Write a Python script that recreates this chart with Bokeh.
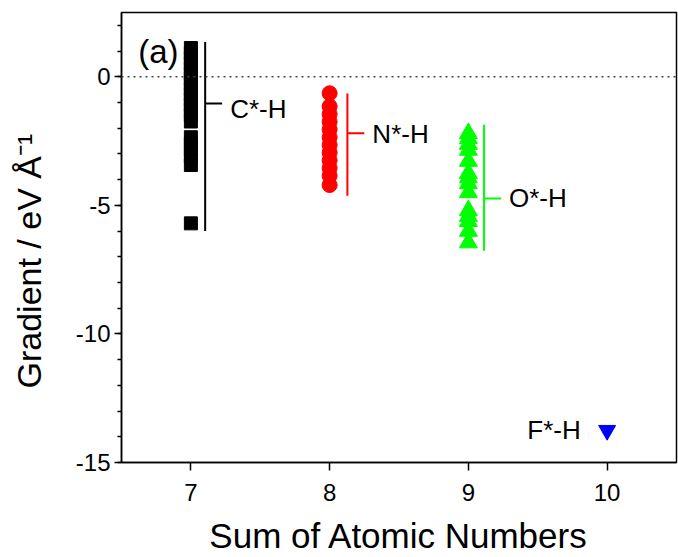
from bokeh.plotting import figure
from bokeh.models import Range1d, FixedTicker, Span, Label
from bokeh.embed import file_html
from bokeh.resources import INLINE

FONT = "Liberation Sans"

# ---- data ----
c_x = 7
c_values = [1.12, 0.92, 0.72, 0.52, 0.32, 0.12, -0.08, -0.28, -0.48, -0.68,
            -0.88, -1.08, -1.28, -1.48, -1.74, -2.35, -2.6, -2.85, -3.1, -3.43, -5.7]
n_x = 8
n_values = [-0.64, -1.15, -1.45, -1.75, -2.05, -2.35, -2.65, -2.95, -3.25,
            -3.55, -3.85, -4.21]
o_x = 9
o_values = [-2.2, -2.4, -2.62, -2.85, -3.28, -3.75, -3.92, -4.15, -4.5,
            -5.2, -5.42, -5.62, -6.0, -6.45]
f_x = 10
f_values = [-13.75]

group_names = ["C*-H", "N*-H", "O*-H"]
group_colors = ["#000000", "#ff0000", "#00ff00"]
bracket_x = [7.103, 8.128, 9.113]
bracket_top = [1.35, -0.65, -1.87]
bracket_bottom = [-6.0, -4.63, -6.77]
bracket_stub_y = [-1.04, -2.2, -4.73]
label_y = [-1.24, -2.24, -4.73]

x_ticks = [7, 8, 9, 10]
x_tick_labels = ["7", "8", "9", "10"]
y_ticks = [-15, -10, -5, 0]
y_tick_labels = ["-15", "-10", "-5", "0"]
y_minor = list(range(-15, 3))

x_title = "Sum of Atomic Numbers"
y_title = "Gradient / eV Å⁻¹"

p = figure(width=678, height=557, x_range=Range1d(6.5, 10.5), y_range=Range1d(-15, 2.5),
           output_backend="svg", toolbar_location=None,
           min_border_left=121, min_border_right=2, min_border_top=12, min_border_bottom=95)
p.background_fill_color = "white"
p.border_fill_color = "white"
p.outline_line_color = "black"
p.outline_line_width = 1.5
p.xgrid.visible = False
p.ygrid.visible = False

# zero reference line
p.add_layout(Span(location=0, dimension="width", line_color="#444444",
                  line_width=1.5, line_dash="2 4"))

# markers
p.scatter([c_x] * len(c_values), c_values, marker="square", size=13,
          fill_color="#000000", line_color="#000000")
p.scatter([n_x] * len(n_values), n_values, marker="circle", size=15,
          fill_color="#ff0000", line_color="#ff0000")
p.scatter([o_x] * len(o_values), o_values, marker="triangle", size=18,
          fill_color="#00ff00", line_color="#00ff00")
p.scatter([f_x] * len(f_values), f_values, marker="inverted_triangle", size=17,
          fill_color="#0000ff", line_color="#0000ff")

# brackets and labels
stub = 0.122
for name, col, bx, bt, bb, sy, ly in zip(group_names, group_colors, bracket_x,
                                          bracket_top, bracket_bottom, bracket_stub_y, label_y):
    p.segment(x0=[bx, bx], y0=[bt, sy], x1=[bx, bx + stub], y1=[bb, sy],
              line_color=col, line_width=2)
    p.add_layout(Label(x=bx + 0.18, y=ly, text=name, text_font=FONT,
                       text_font_size="26px", text_color="black",
                       text_baseline="middle", text_align="left"))

p.add_layout(Label(x=9.81, y=f_values[0], text="F*-H", text_font=FONT,
                   text_font_size="26px", text_color="black",
                   text_baseline="middle", text_align="right"))
p.add_layout(Label(x=6.62, y=0.97, text="(a)", text_font=FONT,
                   text_font_size="33px", text_color="black",
                   text_baseline="middle", text_align="left"))

# axes
xa = p.xaxis[0]
xa.ticker = FixedTicker(ticks=x_ticks)
xa.major_label_overrides = dict(zip(x_ticks, x_tick_labels))
xa.axis_label = x_title
ya = p.yaxis[0]
ya.ticker = FixedTicker(ticks=y_ticks, minor_ticks=y_minor)
ya.major_label_overrides = dict(zip(y_ticks, y_tick_labels))
# trailing no-break spaces shift the centred title slightly downwards, as in the reference
ya.axis_label = y_title + "\u00a0" * 5

for ax in (xa, ya):
    ax.axis_line_width = 1.5
    ax.axis_line_color = "black"
    ax.major_tick_line_width = 1.5
    ax.minor_tick_line_width = 1.5
    ax.major_tick_in = 0
    ax.minor_tick_in = 0
    ax.minor_tick_out = 4
    ax.major_label_text_font = FONT
    ax.major_label_text_font_size = "24px"
    ax.major_label_text_color = "black"
    ax.axis_label_text_font = FONT
    ax.axis_label_text_font_style = "normal"
    ax.axis_label_text_color = "black"
xa.axis_label_text_font_size = "35px"
ya.axis_label_text_font_size = "34px"
xa.major_tick_out = 8
xa.minor_tick_line_color = None
xa.major_label_standoff = 13
xa.axis_label_standoff = 12
ya.major_tick_out = 7
ya.major_label_standoff = 4
ya.axis_label_standoff = 25

open("out.html", "w").write(file_html(p, INLINE))
